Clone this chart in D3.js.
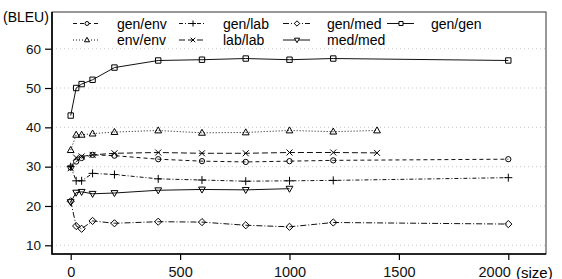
<!DOCTYPE html>
<html>
<head>
<meta charset="utf-8">
<script src="https://cdn.jsdelivr.net/npm/d3@7"></script>
<style>
  body { margin: 0; background: #fff; }
  svg { display: block; font-family: "Liberation Sans", Arial, sans-serif; }
</style>
</head>
<body>
<svg id="chart" width="562" height="279"></svg>
<script>
// training sizes per series and BLEU values
const xGenEnv = [0, 25, 50, 100, 200, 400, 600, 800, 1000, 1200, 2000];
const genEnv  = [29.8, 31.3, 32.2, 33.0, 32.8, 31.9, 31.4, 31.2, 31.4, 31.6, 31.9];

const xEnvEnv = [0, 25, 50, 100, 200, 400, 600, 800, 1000, 1200, 1400];
const envEnv  = [34.2, 38.1, 38.1, 38.4, 38.8, 39.2, 38.6, 38.7, 39.2, 38.9, 39.2];

const xGenLab = [0, 25, 50, 100, 200, 400, 600, 800, 1000, 1200, 2000];
const genLab  = [30.0, 26.4, 26.4, 28.3, 28.0, 26.9, 26.6, 26.3, 26.4, 26.5, 27.2];

const xLabLab = [0, 25, 50, 100, 200, 400, 600, 800, 1000, 1200, 1400];
const labLab  = [29.6, 32.3, 32.6, 33.0, 33.4, 33.6, 33.4, 33.4, 33.6, 33.6, 33.5];

const xGenMed = [0, 25, 50, 100, 200, 400, 600, 800, 1000, 1200, 2000];
const genMed  = [21.2, 14.9, 14.2, 16.2, 15.6, 16.0, 15.9, 15.1, 14.7, 15.8, 15.4];

const xMedMed = [0, 25, 50, 100, 200, 400, 600, 800, 1000];
const medMed  = [21.0, 23.4, 23.6, 23.1, 23.3, 24.0, 24.2, 24.1, 24.4];

const xGenGen = [0, 25, 50, 100, 200, 400, 600, 800, 1000, 1200, 2000];
const genGen  = [43.0, 50.0, 51.0, 52.1, 55.2, 57.0, 57.2, 57.5, 57.2, 57.5, 57.0];

const xTicks = [0, 500, 1000, 1500, 2000];
const yTicks = [10, 20, 30, 40, 50, 60];

const series = [
  { name: "gen/env", xs: xGenEnv, ys: genEnv, dash: "4,3",     mark: "circle" },
  { name: "gen/lab", xs: xGenLab, ys: genLab, dash: "4,2,1,2", mark: "plus" },
  { name: "gen/med", xs: xGenMed, ys: genMed, dash: "6,2,1,2", mark: "diamond" },
  { name: "gen/gen", xs: xGenGen, ys: genGen, dash: null,      mark: "square" },
  { name: "env/env", xs: xEnvEnv, ys: envEnv, dash: "1,2",     mark: "triUp" },
  { name: "lab/lab", xs: xLabLab, ys: labLab, dash: "6,3",     mark: "cross" },
  { name: "med/med", xs: xMedMed, ys: medMed, dash: null,      mark: "triDown" }
];

const svg = d3.select("#chart");
const frame = { left: 52, right: 546, top: 12, bottom: 254 };

const x = d3.scaleLinear().domain([0, 2000]).range([70.7, 508.3]);
const y = d3.scaleLinear().domain([10, 60]).range([245.3, 48.7]);

/**
 * Marker shapes (R-like pch symbols)
 */
function markPath(kind, s) {
  switch (kind) {
    case "circle":  return d3.symbol(d3.symbolCircle, 22 * s * s)();
    case "plus":    return `M${-4*s},0H${4*s}M0,${-4*s}V${4*s}`;
    case "cross":   return `M${-3*s},${-3*s}L${3*s},${3*s}M${-3*s},${3*s}L${3*s},${-3*s}`;
    case "diamond": return `M0,${-3.6*s}L${3.6*s},0L0,${3.6*s}L${-3.6*s},0Z`;
    case "square":  return `M${-2.7*s},${-2.7*s}h${5.4*s}v${5.4*s}h${-5.4*s}Z`;
    case "triUp":   return `M0,${-3.6*s}L${3.4*s},${2.4*s}L${-3.4*s},${2.4*s}Z`;
    case "triDown": return `M0,${3.6*s}L${3.4*s},${-2.4*s}L${-3.4*s},${-2.4*s}Z`;
  }
}

// grid
svg.append("g")
  .selectAll("line")
  .data(yTicks)
  .enter().append("line")
  .attr("x1", frame.left).attr("x2", frame.right)
  .attr("y1", d => y(d)).attr("y2", d => y(d))
  .attr("stroke", "#bbb")
  .attr("stroke-width", 0.8)
  .attr("stroke-dasharray", "1,3");

// axes
const yAxis = svg.append("g")
  .attr("transform", `translate(${frame.left},0)`)
  .call(d3.axisLeft(y).tickValues(yTicks).tickSize(7).tickPadding(4));
yAxis.select(".domain").remove();
yAxis.selectAll("text").attr("font-size", 13.5).attr("fill", "#111")
  .attr("font-family", "Liberation Sans, Arial, sans-serif");
yAxis.selectAll("line").attr("stroke-width", 1.2);

const xAxis = svg.append("g")
  .attr("transform", `translate(0,${frame.bottom})`)
  .call(d3.axisBottom(x).tickValues(xTicks).tickFormat(d3.format("d"))
    .tickSize(6).tickPadding(7));
xAxis.select(".domain").remove();
xAxis.selectAll("text").attr("font-size", 14.5).attr("fill", "#111")
  .attr("font-family", "Liberation Sans, Arial, sans-serif");
// last label sits left of its tick to leave room for "(size)"
xAxis.selectAll("text").filter(d => d === 2000)
  .attr("text-anchor", "end").attr("dx", 2);
xAxis.selectAll("line").attr("stroke-width", 1.2);

// frame
svg.append("rect")
  .attr("x", frame.left).attr("y", frame.top)
  .attr("width", frame.right - frame.left)
  .attr("height", frame.bottom - frame.top)
  .attr("fill", "none").attr("stroke", "#333").attr("stroke-width", 1);
svg.append("path")
  .attr("d", `M${frame.left},${frame.top}V${frame.bottom}H${frame.right}`)
  .attr("fill", "none").attr("stroke", "#000").attr("stroke-width", 1.6);

// axis titles
svg.append("text").attr("x", 3).attr("y", 22)
  .attr("font-size", 14).text("(BLEU)");
svg.append("text").attr("x", 516).attr("y", 277.5)
  .attr("font-size", 15).text("(size)");

// series lines and markers
const line = d3.line().x(d => x(d[0])).y(d => y(d[1]));

series.forEach(s => {
  const pts = s.xs.map((v, i) => [v, s.ys[i]]);
  const g = svg.append("g").attr("class", "series");
  g.append("path")
    .attr("d", line(pts))
    .attr("fill", "none")
    .attr("stroke", "#111")
    .attr("stroke-width", 1)
    .attr("stroke-dasharray", s.dash);
  g.selectAll("path.mark")
    .data(pts)
    .enter().append("path")
    .attr("class", "mark")
    .attr("transform", d => `translate(${x(d[0])},${y(d[1])})`)
    .attr("d", markPath(s.mark, 1))
    .attr("fill", "none")
    .attr("stroke", "#000")
    .attr("stroke-width", 1);
});

// legend, two rows
const legendCols = [73, 179, 283, 387];
const legendRows = [23.5, 40];
series.forEach((s, i) => {
  const lx = legendCols[i % 4], ly = legendRows[Math.floor(i / 4)];
  const g = svg.append("g").attr("transform", `translate(${lx},${ly})`);
  g.append("line")
    .attr("x1", 0).attr("x2", 27).attr("y1", 0).attr("y2", 0)
    .attr("stroke", "#111").attr("stroke-width", 1)
    .attr("stroke-dasharray", s.dash);
  g.append("path")
    .attr("transform", "translate(14,0)")
    .attr("d", markPath(s.mark, 0.75))
    .attr("fill", "#fff").attr("stroke", "#000").attr("stroke-width", 1);
  g.append("text")
    .attr("x", 44).attr("y", 5)
    .attr("font-size", 14)
    .text(s.name);
});
</script>
</body>
</html>
